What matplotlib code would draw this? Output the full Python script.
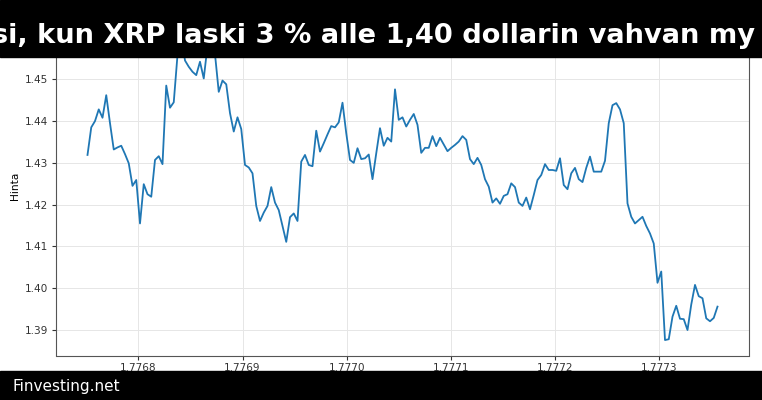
# Grafiikka: XRP:n hinta (tuntidata), musta otsikkopalkki ja alapalkki

import numpy as np
import matplotlib
matplotlib.use("Agg")
import matplotlib.pyplot as plt
from matplotlib.patches import Rectangle

# Aikaleimat (sekunteja), tunnin välein
alku = 1776751200
tunnit = np.arange(169)
aika = alku + tunnit * 3600

# Hinta
hinta = [
    1.4319, 1.4385, 1.4400, 1.4428, 1.4408, 1.4462, 1.4395, 1.4332, 1.4337, 1.4341,
    1.4321, 1.4299, 1.4245, 1.4259, 1.4155, 1.4249, 1.4225, 1.4219, 1.4307, 1.4316,
    1.4297, 1.4485, 1.4432, 1.4445, 1.4558, 1.4605, 1.4545, 1.4530, 1.4518, 1.4510,
    1.4542, 1.4502, 1.4580, 1.4615, 1.4560, 1.4470, 1.4497, 1.4488, 1.4419, 1.4375,
    1.4409, 1.4381, 1.4295, 1.4289, 1.4275, 1.4197, 1.4161, 1.4181, 1.4197, 1.4242,
    1.4205, 1.4187, 1.4149, 1.4111, 1.4170, 1.4179, 1.4161, 1.4303, 1.4319, 1.4295,
    1.4292, 1.4377, 1.4327, 1.4347, 1.4368, 1.4388, 1.4385, 1.4397, 1.4444, 1.4371,
    1.4307, 1.4300, 1.4335, 1.4309, 1.4311, 1.4320, 1.4261, 1.4323, 1.4383, 1.4341,
    1.4360, 1.4351, 1.4476, 1.4403, 1.4409, 1.4387, 1.4403, 1.4417, 1.4391, 1.4324,
    1.4336, 1.4336, 1.4364, 1.4340, 1.4360, 1.4344, 1.4328, 1.4336, 1.4343, 1.4351,
    1.4364, 1.4355, 1.4309, 1.4297, 1.4312, 1.4295, 1.4261, 1.4243, 1.4205, 1.4215,
    1.4202, 1.4221, 1.4225, 1.4251, 1.4242, 1.4205, 1.4197, 1.4217, 1.4189, 1.4223,
    1.4259, 1.4271, 1.4297, 1.4283, 1.4283, 1.4281, 1.4311, 1.4247, 1.4237, 1.4275,
    1.4288, 1.4261, 1.4254, 1.4288, 1.4315, 1.4279, 1.4279, 1.4279, 1.4305, 1.4395,
    1.4438, 1.4443, 1.4428, 1.4395, 1.4203, 1.4171, 1.4155, 1.4163, 1.4171, 1.4149,
    1.4131, 1.4107, 1.4013, 1.4040, 1.3876, 1.3878, 1.3932, 1.3958, 1.3927, 1.3926,
    1.3900, 1.3961, 1.4008, 1.3981, 1.3976, 1.3928, 1.3921, 1.3929, 1.3956,
]

otsikko = "si, kun XRP laski 3 % alle 1,40 dollarin vahvan my"
lahde = "Finvesting.net"

# Kuva
fig = plt.figure(figsize=(7.62, 4.0), dpi=100)
ax = fig.add_axes([56 / 762, 0.11125, 693 / 762, 0.84925])

ax.plot(aika, hinta, color="#1f77b4", linewidth=1.3)

ax.ticklabel_format(axis="x", useOffset=False)
ax.set_ylabel("Hinta", fontsize=7.6, labelpad=4)
ax.grid(True, color="#e6e6e6", linewidth=0.7)
ax.tick_params(labelsize=7.6, length=2.7, pad=2.7, colors="#333333")
for s in ax.spines.values():
    s.set_color("#555555")
    s.set_linewidth(0.8)

# Otsikkopalkki (teksti jatkuu reunojen yli kuten alkuperäisessä)
fig.add_artist(Rectangle((0, 1 - 57 / 400), 1, 57 / 400,
                         transform=fig.transFigure, color="black", zorder=5))
fig.text(-8 / 762, 1 - 43.3 / 400, otsikko, color="white", fontsize=19.6,
         fontweight="bold", family="DejaVu Sans",
         ha="left", va="baseline", zorder=6)

# Alapalkki
fig.add_artist(Rectangle((0, 0), 1, 29 / 400,
                         transform=fig.transFigure, color="black", zorder=5))
fig.text(12 / 762, 9.3 / 400, lahde, color="white", fontsize=11,
         ha="left", va="baseline", zorder=6)

fig.savefig("out.png", dpi=100)
